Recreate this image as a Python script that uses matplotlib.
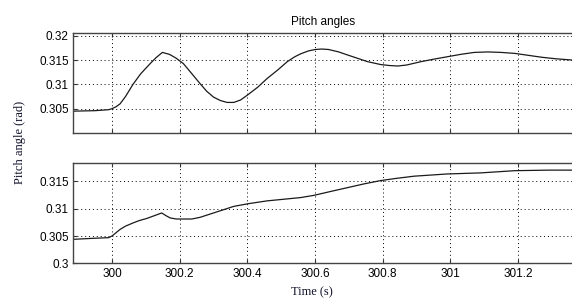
import numpy as np
import matplotlib
matplotlib.use('Agg')
import matplotlib.pyplot as plt

# pitch angle, upper panel
t_top = [299.885, 299.95, 299.99, 300.00, 300.012, 300.024, 300.04, 300.062,
         300.085, 300.113, 300.13, 300.149, 300.17, 300.19, 300.211, 300.235,
         300.26, 300.28, 300.30, 300.32, 300.34, 300.36, 300.38, 300.40,
         300.43, 300.458, 300.49, 300.518, 300.54, 300.557, 300.58, 300.60,
         300.62, 300.64, 300.67, 300.695, 300.725, 300.755, 300.794, 300.82,
         300.844, 300.87, 300.913, 300.95, 300.99, 301.03, 301.07, 301.11,
         301.15, 301.19, 301.23, 301.27, 301.31, 301.365]
y_top = [0.3045, 0.3046, 0.3048, 0.3050, 0.3054, 0.3060, 0.3075, 0.3100,
         0.3122, 0.3143, 0.3155, 0.3166, 0.3162, 0.3154, 0.3143, 0.3123,
         0.3102, 0.3086, 0.3074, 0.3067, 0.3063, 0.3063, 0.3068, 0.3078,
         0.3094, 0.3112, 0.3130, 0.3147, 0.3157, 0.3163, 0.3169, 0.3172,
         0.3173, 0.3172, 0.3167, 0.3161, 0.3154, 0.3147, 0.3141, 0.3139,
         0.3138, 0.3140, 0.3147, 0.3152, 0.3157, 0.3162, 0.3166, 0.3167,
         0.3166, 0.3164, 0.3160, 0.3156, 0.3153, 0.3150]

# pitch angle, lower panel
t_bot = [299.885, 299.95, 299.99, 300.00, 300.012, 300.024, 300.04, 300.063,
         300.08, 300.103, 300.125, 300.147, 300.16, 300.172, 300.19, 300.21,
         300.236, 300.26, 300.3, 300.33, 300.36, 300.404, 300.458, 300.557,
         300.596, 300.645, 300.695, 300.745, 300.794, 300.84, 300.893, 300.99,
         301.09, 301.19, 301.29, 301.365]
y_bot = [0.3044, 0.3046, 0.3047, 0.3050, 0.3056, 0.3062, 0.3068, 0.3074,
         0.3078, 0.3082, 0.3087, 0.3092, 0.3087, 0.3083, 0.3081, 0.3081,
         0.3081, 0.3084, 0.3092, 0.3098, 0.3104, 0.3109, 0.3114, 0.3120,
         0.3124, 0.3131, 0.3138, 0.3145, 0.3151, 0.3155, 0.3159, 0.3163,
         0.3165, 0.3169, 0.3170, 0.3170]

x_ticks = [300, 300.2, 300.4, 300.6, 300.8, 301, 301.2]
x_labels = ['300', '300.2', '300.4', '300.6', '300.8', '301', '301.2']
top_yticks = [0.305, 0.31, 0.315, 0.32]
top_ylabels = ['0.305', '0.31', '0.315', '0.32']
bot_yticks = [0.3, 0.305, 0.31, 0.315]
bot_ylabels = ['0.3', '0.305', '0.31', '0.315']

plt.rcParams['font.family'] = ['Liberation Sans', 'DejaVu Sans']
plt.rcParams['font.size'] = 8.5

fig = plt.figure(figsize=(5.72, 3.02), dpi=100)
ax1 = fig.add_axes([0.1276, 0.5596, 0.876, 0.3295])
ax2 = fig.add_axes([0.1276, 0.1275, 0.876, 0.3328])


def style(ax, yticks, ylabels, ylim, show_x):
    ax.set_xlim(299.885, 301.365)
    ax.set_ylim(*ylim)
    ax.set_xticks(x_ticks)
    ax.set_xticklabels(x_labels if show_x else [])
    ax.set_yticks(yticks)
    ax.set_yticklabels(ylabels)
    ax.tick_params(direction='in', length=3, width=0.8, top=True,
                   colors='#333333', labelcolor='black', pad=3)
    ax.grid(True, color='black', linestyle=(0, (1, 3)), linewidth=0.7)
    for s in ax.spines.values():
        s.set_color('#444444')
        s.set_linewidth(1.0)


ax1.plot(t_top, y_top, color='#1a1a1a', linewidth=0.9)
style(ax1, top_yticks, top_ylabels, (0.3, 0.3205), False)
ax1.set_title('Pitch angles', fontsize=8.5, pad=6)

ax2.plot(t_bot, y_bot, color='#1a1a1a', linewidth=0.9)
style(ax2, bot_yticks, bot_ylabels, (0.3, 0.3183), True)

fig.text(0.035, 0.53, 'Pitch angle (rad)', rotation=90, va='center',
         ha='center', family='Liberation Serif', fontsize=9, color='#10102a')
fig.text(0.545, 0.012, 'Time (s)', va='bottom', ha='center',
         family='Liberation Serif', fontsize=9, color='#10102a')

fig.savefig('out.png', dpi=100)
